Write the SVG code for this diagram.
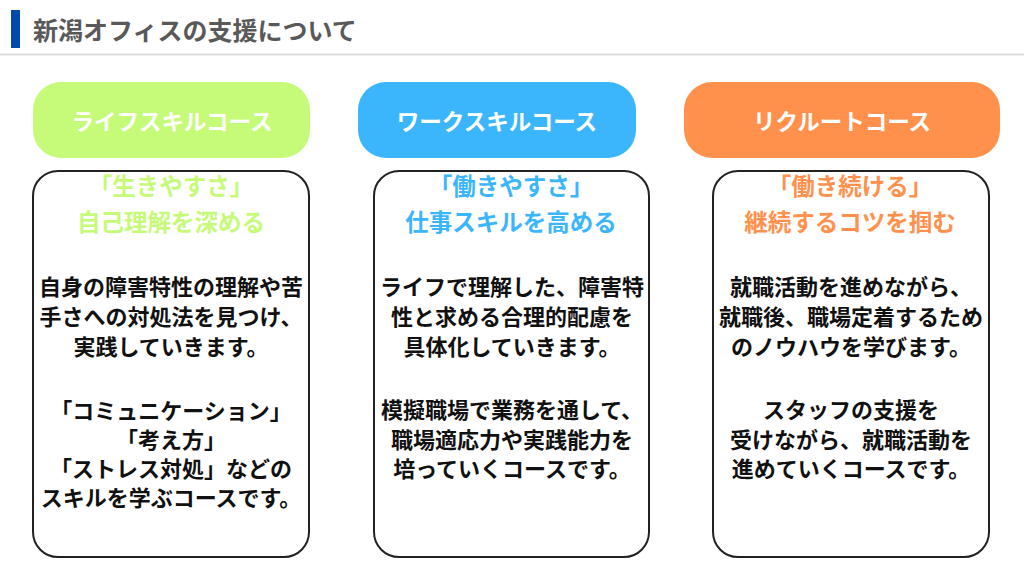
<svg xmlns="http://www.w3.org/2000/svg" width="1024" height="576" viewBox="0 0 1024 576">
<style>
text{font-family:"Noto Sans CJK JP","Noto Sans CJK SC",sans-serif;font-weight:bold;text-anchor:middle}
.title{font-size:25px;fill:#595959;text-anchor:start}
.pill{font-size:22.5px;fill:#ffffff}
.sub{font-size:23.5px}
.body{font-size:22px;fill:#111111}
.box{fill:#ffffff;stroke:#222222;stroke-width:2}
</style>
<rect width="1024" height="576" fill="#ffffff"/>
<g id="header">
<rect x="11" y="10" width="9" height="38" fill="#004AAD"/>
<text class="title" x="33" y="40">新潟オフィスの支援について</text>
<rect x="0" y="53.5" width="1024" height="2" fill="#dddddd"/>
</g>
<g id="life">
<rect x="33" y="82" width="277" height="76" rx="28" fill="#C6FB79"/>
<text class="pill" x="172" y="130">ライフスキルコース</text>
<rect class="box" x="33" y="171" width="276" height="386" rx="25"/>
<text class="sub" fill="#C6FB79" x="171" y="195">「生きやすさ」</text>
<text class="sub" fill="#C6FB79" x="171" y="231">自己理解を深める</text>
<text class="body" x="171" y="295">自身の障害特性の理解や苦</text>
<text class="body" x="171" y="325">手さへの対処法を見つけ、</text>
<text class="body" x="171" y="355">実践していきます。</text>
<text class="body" x="171" y="419">「コミュニケーション」</text>
<text class="body" x="171" y="448">「考え方」</text>
<text class="body" x="171" y="477">「ストレス対処」などの</text>
<text class="body" x="171" y="506">スキルを学ぶコースです。</text>
</g>
<g id="work">
<rect x="358" y="82" width="278" height="76" rx="28" fill="#3BB6FD"/>
<text class="pill" x="497" y="130">ワークスキルコース</text>
<rect class="box" x="374" y="171" width="275" height="386" rx="25"/>
<text class="sub" fill="#3BB6FD" x="511" y="195">「働きやすさ」</text>
<text class="sub" fill="#3BB6FD" x="511" y="231">仕事スキルを高める</text>
<text class="body" x="512" y="295">ライフで理解した、障害特</text>
<text class="body" x="512" y="325">性と求める合理的配慮を</text>
<text class="body" x="512" y="355">具体化していきます。</text>
<text class="body" x="512" y="418">模擬職場で業務を通して、</text>
<text class="body" x="512" y="448">職場適応力や実践能力を</text>
<text class="body" x="512" y="477">培っていくコースです。</text>
</g>
<g id="recruit">
<rect x="684" y="82" width="316" height="76" rx="28" fill="#FF914D"/>
<text class="pill" x="842" y="130">リクルートコース</text>
<rect class="box" x="713" y="171" width="276" height="386" rx="25"/>
<text class="sub" fill="#FF914D" x="850" y="195">「働き続ける」</text>
<text class="sub" fill="#FF914D" x="850" y="231">継続するコツを掴む</text>
<text class="body" x="851" y="295">就職活動を進めながら、</text>
<text class="body" x="851" y="325">就職後、職場定着するため</text>
<text class="body" x="851" y="355">のノウハウを学びます。</text>
<text class="body" x="851" y="418">スタッフの支援を</text>
<text class="body" x="851" y="448">受けながら、就職活動を</text>
<text class="body" x="851" y="477">進めていくコースです。</text>
</g>
<g id="connectors"/>
</svg>
